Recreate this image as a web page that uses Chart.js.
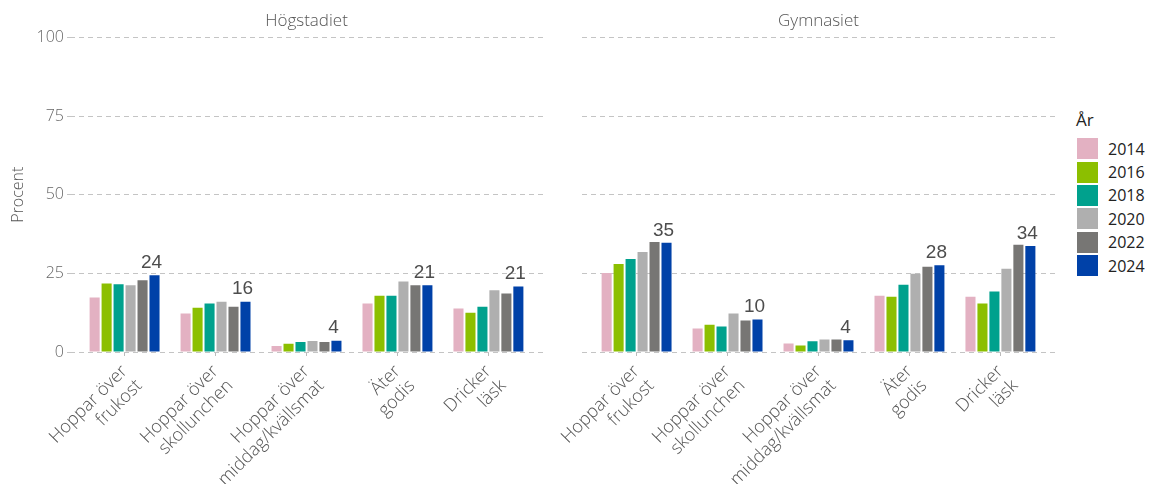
<!DOCTYPE html>
<html lang="sv">
<head>
  <meta charset="UTF-8">
  <title>Måltider, godis och läsk</title>
  <script src="https://cdn.jsdelivr.net/npm/chart.js"></script>
  <style>
    body {
      margin: 0;
      background: #fff;
      font-family: 'Open Sans', sans-serif;
    }
    .wrap { position: relative; width: 1151px; height: 484px; }
    .panel { position: absolute; top: 0; height: 484px; }
    #p1 { left: 0; width: 553px; }
    #p2 { left: 550px; width: 515px; }
    .legend { position: absolute; left: 1076px; top: 108px; color: #222; font-size: 16px; }
    .legend .lt { font-size: 17px; margin-bottom: 6px; }
    .legend .row { display: flex; align-items: center; height: 23.4px; }
    .legend .sw { width: 21px; height: 21px; margin-right: 10px; margin-left: 1px; }
  </style>
</head>
<body>
  <div class="wrap">
    <div class="panel" id="p1"><canvas id="c1"></canvas></div>
    <div class="panel" id="p2"><canvas id="c2"></canvas></div>
    <div class="legend" id="legend"><div class="lt">År</div></div>
  </div>

  <script>
    const years = ['2014', '2016', '2018', '2020', '2022', '2024'];
    const colors = ['#e3b1c2', '#8cbf00', '#00a18d', '#afafaf', '#777674', '#0041a8'];
    const categories = [
      ['Hoppar över', 'frukost'],
      ['Hoppar över', 'skollunchen'],
      ['Hoppar över', 'middag/kvällsmat'],
      ['Äter', 'godis'],
      ['Dricker', 'läsk']
    ];
    const yTicks = [0, 25, 50, 75, 100];

    // Högstadiet (procent), en lista per år
    const hog2014 = [17.3, 12.2, 1.9, 15.4, 13.8];
    const hog2016 = [21.8, 14.1, 2.6, 17.9, 12.5];
    const hog2018 = [21.5, 15.4, 3.2, 17.9, 14.4];
    const hog2020 = [21.2, 16.0, 3.5, 22.4, 19.6];
    const hog2022 = [22.8, 14.4, 3.2, 21.2, 18.6];
    const hog2024 = [24.4, 16.0, 3.6, 21.2, 20.8];

    // Gymnasiet (procent)
    const gym2014 = [25.1, 7.5, 2.7, 17.9, 17.6];
    const gym2016 = [28.0, 8.7, 2.1, 17.6, 15.4];
    const gym2018 = [29.6, 8.1, 3.4, 21.4, 19.2];
    const gym2020 = [31.8, 12.2, 4.0, 24.9, 26.5];
    const gym2022 = [35.0, 10.0, 4.0, 27.1, 34.1];
    const gym2024 = [34.7, 10.3, 3.7, 27.6, 33.7];

    const hogSeries = [hog2014, hog2016, hog2018, hog2020, hog2022, hog2024];
    const gymSeries = [gym2014, gym2016, gym2018, gym2020, gym2022, gym2024];

    // siffra ovanför senaste årets stapel
    const lastLabel = {
      id: 'lastLabel',
      afterDatasetsDraw(chart) {
        const ctx = chart.ctx;
        const i = chart.data.datasets.length - 1;
        const meta = chart.getDatasetMeta(i);
        ctx.save();
        ctx.font = '19px "Liberation Sans", Arial, sans-serif';
        ctx.fillStyle = '#4d4d4d';
        ctx.textAlign = 'center';
        ctx.textBaseline = 'bottom';
        meta.data.forEach((bar, j) => {
          ctx.fillText(Math.round(chart.data.datasets[i].data[j]), bar.x - 3, bar.y - 3);
        });
        ctx.restore();
      }
    };

    function makePanel(id, title, series, showY, axisWidth) {
      return new Chart(document.getElementById(id), {
        type: 'bar',
        data: {
          labels: categories.map((c, i) => i),
          datasets: series.map((vals, i) => ({
            label: years[i],
            data: vals,
            backgroundColor: colors[i],
            borderWidth: 0,
            categoryPercentage: 0.79,
            barPercentage: 0.84
          }))
        },
        options: {
          responsive: true,
          maintainAspectRatio: false,
          animation: false,
          layout: { padding: { left: 0, right: 10, top: 0, bottom: 0 } },
          plugins: {
            legend: { display: false },
            tooltip: { enabled: false },
            title: {
              display: true,
              text: title,
              fullSize: false,
              color: '#555',
              font: { family: 'Open Sans', size: 17, weight: 300 },
              padding: { top: 11, bottom: 6 }
            }
          },
          scales: {
            x: {
              type: 'linear',
              offset: false,
              min: -0.6,
              max: 4.6,
              afterBuildTicks: s => { s.ticks = categories.map((c, i) => ({ value: i })); },
              afterFit: s => { s.height = 132; },
              ticks: {
                autoSkip: false,
                minRotation: 45,
                maxRotation: 45,
                padding: 5,
                color: '#555',
                font: { family: 'Open Sans', size: 18, weight: 300, lineHeight: 1.15 },
                callback: v => categories[v]
              },
              grid: { offset: false, drawOnChartArea: false, drawTicks: true, tickLength: 4, color: '#bbb' },
              border: { display: false }
            },
            y: {
              min: 0,
              max: 100,
              afterBuildTicks: s => { s.ticks = yTicks.map(v => ({ value: v })); },
              afterFit: s => { s.width = axisWidth; },
              ticks: {
                display: showY,
                color: '#666',
                font: { family: 'Open Sans', size: 16, weight: 300 },
                padding: 3
              },
              grid: {
                color: '#c4c4c4',
                lineWidth: 1,
                drawTicks: showY,
                tickLength: 3,
                tickBorderDash: [5, 4]
              },
              border: { display: false, dash: [5, 4] },
              title: {
                display: showY,
                text: 'Procent',
                color: '#555',
                font: { family: 'Open Sans', size: 16, weight: 300 },
                padding: { top: 9, bottom: 0 }
              }
            }
          }
        },
        plugins: [lastLabel]
      });
    }

    makePanel('c1', 'Högstadiet', hogSeries, true, 70);
    makePanel('c2', 'Gymnasiet', gymSeries, false, 32);

    const legend = document.getElementById('legend');
    years.forEach((y, i) => {
      const row = document.createElement('div');
      row.className = 'row';
      row.innerHTML = `<span class="sw" style="background:${colors[i]}"></span><span>${y}</span>`;
      legend.appendChild(row);
    });
  </script>
</body>
</html>
